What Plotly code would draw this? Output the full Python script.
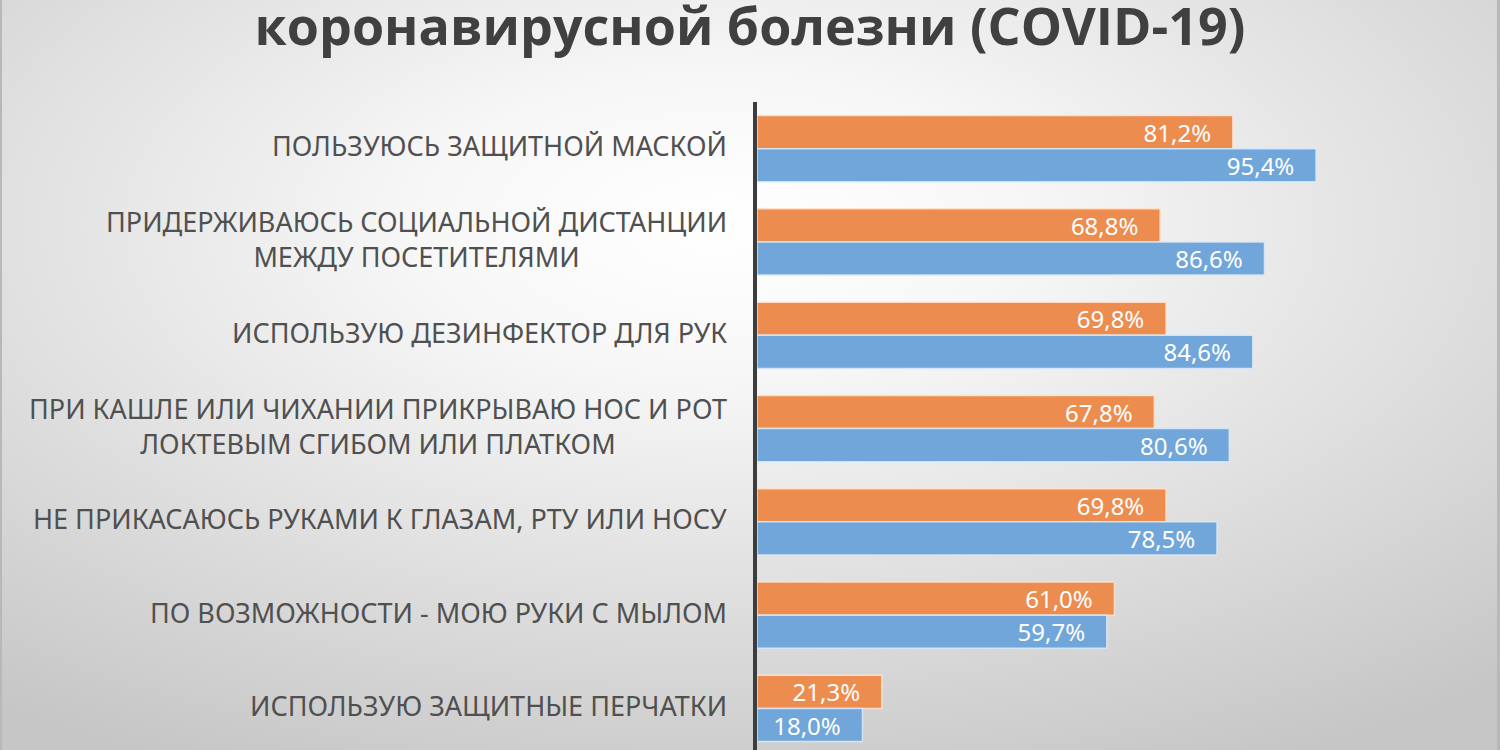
import base64
import plotly.graph_objects as go

categories = [
    "ПОЛЬЗУЮСЬ ЗАЩИТНОЙ МАСКОЙ",
    "ПРИДЕРЖИВАЮСЬ СОЦИАЛЬНОЙ ДИСТАНЦИИ<br>МЕЖДУ ПОСЕТИТЕЛЯМИ",
    "ИСПОЛЬЗУЮ ДЕЗИНФЕКТОР ДЛЯ РУК",
    "ПРИ КАШЛЕ ИЛИ ЧИХАНИИ ПРИКРЫВАЮ НОС И РОТ<br>ЛОКТЕВЫМ СГИБОМ ИЛИ ПЛАТКОМ",
    "НЕ ПРИКАСАЮСЬ РУКАМИ К ГЛАЗАМ, РТУ ИЛИ НОСУ",
    "ПО ВОЗМОЖНОСТИ - МОЮ РУКИ С МЫЛОМ",
    "ИСПОЛЬЗУЮ ЗАЩИТНЫЕ ПЕРЧАТКИ",
]
orange_values = [81.2, 68.8, 69.8, 67.8, 69.8, 61.0, 21.3]
blue_values = [95.4, 86.6, 84.6, 80.6, 78.5, 59.7, 18.0]
title_text = "коронавирусной болезни (COVID-19)"

cat_ids = list(range(len(categories)))

W, H = 1500, 750
L, R, T, B = 757, 157, 102, 0
pw, ph = W - L - R, H - T - B

svg = f"""<svg xmlns='http://www.w3.org/2000/svg' width='{W}' height='{H}' viewBox='0 0 {W} {H}' preserveAspectRatio='none'>
<defs><radialGradient id='g' cx='0.48' cy='0.3' r='0.8'>
<stop offset='0' stop-color='#ffffff'/><stop offset='0.25' stop-color='#f7f7f7'/><stop offset='1' stop-color='#c6c6c6'/>
</radialGradient></defs>
<rect x='0' y='0' width='{W}' height='{H}' fill='url(#g)'/>
<rect x='0' y='0' width='2' height='{H}' fill='#b8b8b8'/>
<rect x='{W-3}' y='0' width='3' height='{H}' fill='#b8b8b8'/>
</svg>"""
bg_uri = "data:image/svg+xml;base64," + base64.b64encode(svg.encode("utf-8")).decode("ascii")

label_font = dict(family="Noto Sans, Open Sans, sans-serif", size=24, color="#ffffff")
pad = "\u00a0\u00a0\u00a0"

fig = go.Figure()
fig.add_trace(go.Bar(
    y=cat_ids, x=orange_values, orientation="h",
    marker=dict(color="#ED8C4F", line=dict(color="rgba(255,225,205,0.9)", width=1.5)),
    texttemplate="%{x:.1f}%" + pad, textposition="inside", insidetextanchor="end",
    constraintext="none",
    textfont=label_font, hoverinfo="skip", name="orange",
))
fig.add_trace(go.Bar(
    y=cat_ids, x=blue_values, orientation="h",
    marker=dict(color="#70A6D9", line=dict(color="rgba(215,232,250,0.9)", width=1.5)),
    texttemplate="%{x:.1f}%" + pad, textposition="inside", insidetextanchor="end",
    constraintext="none",
    textfont=label_font, hoverinfo="skip", name="blue",
))

for i, c in enumerate(categories):
    fig.add_annotation(
        x=0, xref="paper", xanchor="right", xshift=-28,
        y=i, yref="y", yanchor="middle", yshift=3,
        text=c, showarrow=False, align="center",
        font=dict(family="Noto Sans, Open Sans, sans-serif", size=27, color="#505050"),
    )

fig.update_layout(
    width=W, height=H,
    margin=dict(l=L, r=R, t=T, b=B, pad=0),
    paper_bgcolor="#e0e0e0", plot_bgcolor="rgba(0,0,0,0)",
    barmode="group", bargap=0.29, bargroupgap=0.0,
    separators=", ",
    showlegend=False,
    title=dict(text=title_text, x=0.5, xref="container", xanchor="center",
               y=1 - 27 / H, yref="container", yanchor="middle",
               font=dict(family="Open Sans, sans-serif", size=52, color="#404040", weight="bold")),
    images=[dict(source=bg_uri, xref="paper", yref="paper",
                 x=-L / pw, y=1 + T / ph, sizex=W / pw, sizey=H / ph,
                 xanchor="left", yanchor="top", sizing="stretch", layer="below")],
)
fig.update_xaxes(range=[0, 100], visible=False, fixedrange=True)
fig.update_yaxes(range=[6.445, -0.5], showticklabels=False, showgrid=False, zeroline=False,
                 showline=True, linecolor="#3d3d3d", linewidth=4, ticks="", fixedrange=True)

fig.write_html("out.html", config={"displayModeBar": False},
               post_script="document.body.style.margin='0';document.body.style.overflow='hidden';")
